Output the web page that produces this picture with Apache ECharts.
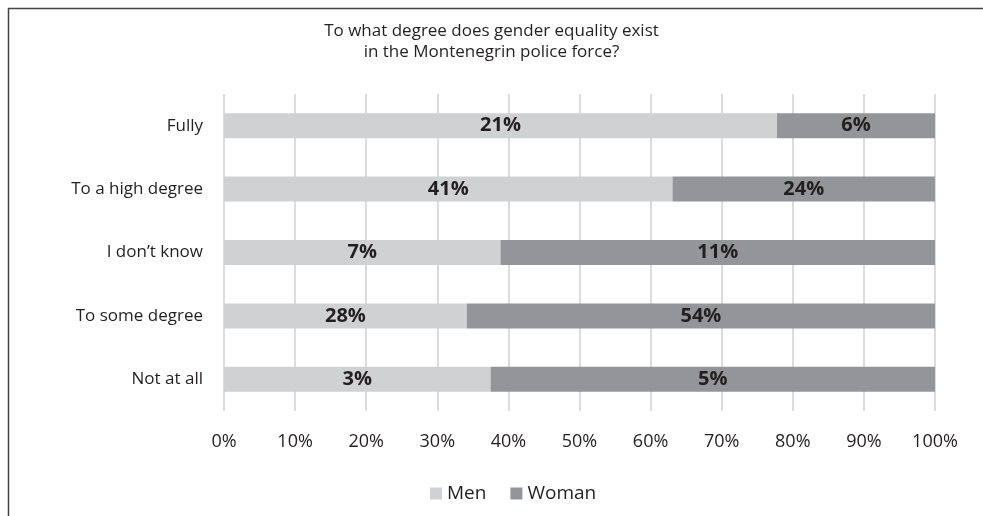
<!DOCTYPE html>
<html>
<head>
<meta charset="utf-8">
<script src="https://cdn.jsdelivr.net/npm/echarts@6/dist/echarts.min.js"></script>
<style>
  html, body { margin: 0; padding: 0; background: #fff; }
  #chart { width: 983px; height: 516px; }
</style>
</head>
<body>
<div id="chart"></div>
<script>
const categories = ['Fully', 'To a high degree', 'I don\u2019t know', 'To some degree', 'Not at all']
const men = [21, 41, 7, 28, 3]
const woman = [6, 24, 11, 54, 5]
const tickLabels = ['0%', '10%', '20%', '30%', '40%', '50%', '60%', '70%', '80%', '90%', '100%']

// bars are drawn as share of the row total, labels show the raw percentages
const share = (arr, i) => arr[i] / (men[i] + woman[i]) * 100
const menData = men.map((v, i) => ({ value: share(men, i), raw: v }))
const womanData = woman.map((v, i) => ({ value: share(woman, i), raw: v }))

const font = '"Open Sans", "Noto Sans", sans-serif'
const ink = '#231f20'

const chart = echarts.init(document.getElementById('chart'))
chart.setOption({
  animation: false,
  textStyle: { fontFamily: font },
  title: {
    text: 'To what degree does gender equality exist\nin the Montenegrin police force?',
    left: 'center',
    top: 16,
    textStyle: { fontSize: 17, fontWeight: 'normal', color: ink, lineHeight: 21, fontFamily: font }
  },
  graphic: [
    { type: 'line', shape: { x1: 8, y1: 8.5, x2: 983, y2: 8.5 }, style: { stroke: '#444', lineWidth: 1.5 } },
    { type: 'line', shape: { x1: 8.5, y1: 8, x2: 8.5, y2: 516 }, style: { stroke: '#444', lineWidth: 1.5 } }
  ],
  legend: {
    bottom: 8,
    left: 425,
    icon: 'rect',
    itemWidth: 12,
    itemHeight: 12,
    itemGap: 24,
    textStyle: { fontSize: 19, color: ink, fontFamily: font },
    data: ['Men', 'Woman']
  },
  grid: { left: 224, right: 48, top: 94, bottom: 105 },
  xAxis: {
    type: 'value',
    min: 0,
    max: 100,
    interval: 10,
    axisLine: { show: false },
    axisTick: { show: false },
    axisLabel: {
      margin: 22,
      fontSize: 18,
      color: ink,
      formatter: v => tickLabels[Math.round(v / 10)]
    },
    splitLine: { lineStyle: { color: '#dcdcdc', width: 2 } }
  },
  yAxis: {
    type: 'category',
    inverse: true,
    data: categories,
    axisLine: { show: false },
    axisTick: { show: false },
    axisLabel: { margin: 21, fontSize: 17, color: ink }
  },
  series: [
    {
      name: 'Men',
      type: 'bar',
      stack: 'total',
      barWidth: 25,
      data: menData,
      itemStyle: { color: '#d0d1d3' },
      label: {
        show: true,
        position: 'inside',
        fontSize: 20,
        fontWeight: 'bold',
        color: ink,
        formatter: p => p.data.raw + '%'
      }
    },
    {
      name: 'Woman',
      type: 'bar',
      stack: 'total',
      barWidth: 25,
      data: womanData,
      itemStyle: { color: '#939598' },
      label: {
        show: true,
        position: 'inside',
        fontSize: 20,
        fontWeight: 'bold',
        color: ink,
        formatter: p => p.data.raw + '%'
      }
    }
  ]
})
</script>
</body>
</html>
